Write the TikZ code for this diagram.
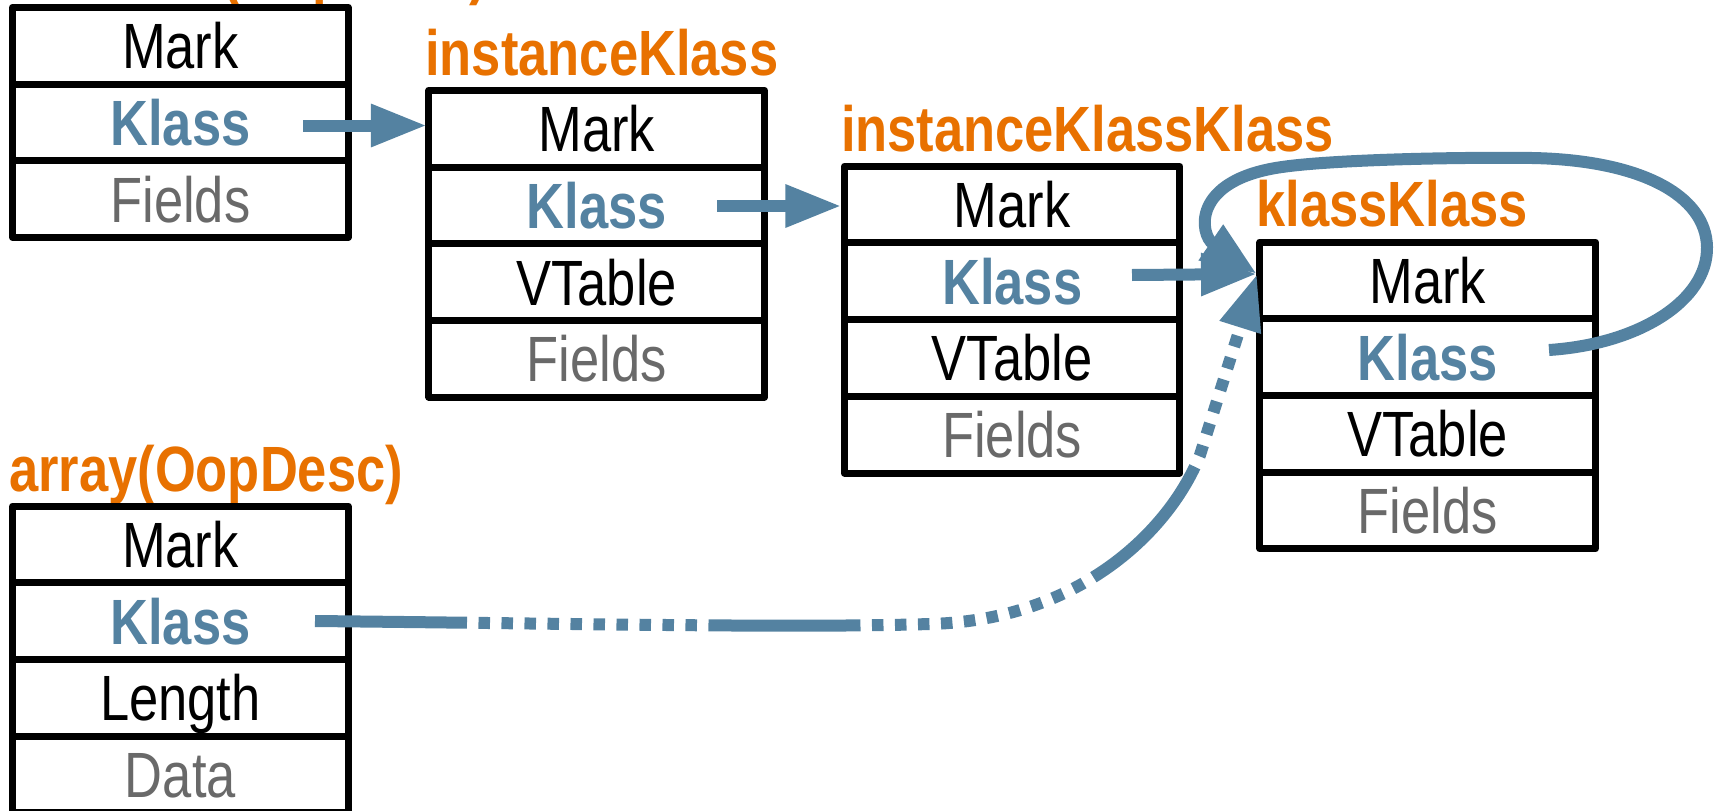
\documentclass[tikz,border=0pt]{standalone}
\usepackage{fontspec}
\setmainfont[FakeStretch=0.82]{Liberation Sans}
\usetikzlibrary{arrows.meta}
\definecolor{kblue}{RGB}{84,130,161}
\definecolor{korange}{RGB}{232,113,0}
\definecolor{kgray}{RGB}{105,105,105}
\begin{document}
\begin{tikzpicture}[x=1pt,y=-1pt,
  cell/.style={draw=black, line width=7pt, line join=round, minimum width=335.5pt,
    minimum height=76.7pt, inner sep=0pt, outer sep=0pt,
    font=\fontsize{64}{70}\selectfont, text height=46pt, text depth=0pt},
  kcell/.style={cell, text=kblue, font=\fontsize{64}{70}\selectfont\bfseries},
  fcell/.style={cell, text=kgray},
  title/.style={anchor=base west, inner sep=0pt, outer sep=0pt, text=korange,
    font=\fontsize{64}{70}\selectfont\bfseries},
  link/.style={draw=kblue, line width=12pt, -{Triangle[length=56pt,width=40pt]}},
]
\useasboundingbox (0,0) rectangle (1719,811);
\clip (0,0) rectangle (1719,811);

% box 1
\node[title] (t1) at (9.2,-7.7) {instance(OopDesc)};
\node[cell]  (b1m) at (180.4,45.65) {Mark};
\node[kcell] (b1k) at (180.4,122.35) {Klass};
\node[fcell] (b1f) at (180.4,199.05) {Fields};

% box 2
\node[title] (t2) at (425.3,75.3) {instanceKlass};
\node[cell]  (b2m) at (596.7,128.65) {Mark};
\node[kcell] (b2k) at (596.7,205.35) {Klass};
\node[cell]  (b2v) at (596.7,282.05) {VTable};
\node[fcell] (b2f) at (596.7,358.75) {Fields};

% box 3
\node[title] (t3) at (841,151.2) {instanceKlassKlass};
\node[cell]  (b3m) at (1012.2,204.55) {Mark};
\node[kcell] (b3k) at (1012.2,281.25) {Klass};
\node[cell]  (b3v) at (1012.2,357.95) {VTable};
\node[fcell] (b3f) at (1012.2,434.65) {Fields};

% box 4
\node[title] (t4) at (1256.5,226) {klassKlass};
\node[cell]  (b4m) at (1427.7,280.35) {Mark};
\node[kcell] (b4k) at (1427.7,357.05) {Klass};
\node[cell]  (b4v) at (1427.7,433.75) {VTable};
\node[fcell] (b4f) at (1427.7,510.45) {Fields};

% box 5
\node[title] (t5) at (9.2,491) {array(OopDesc)};
\node[cell]  (b5m) at (180.4,544.35) {Mark};
\node[kcell] (b5k) at (180.4,621.05) {Klass};
\node[cell]  (b5l) at (180.4,697.75) {Length};
\node[fcell] (b5d) at (180.4,774.45) {Data};

% connector ends
\coordinate (s1) at (303,125.5);
\coordinate (s2) at (717,206);
\coordinate (s3) at (1132,275);
\coordinate (s4) at (1549,350);
\coordinate (s5) at (315,621);
\coordinate (hit) at (1257,274);

\draw[link, shorten >=2pt] (s1) -- (s1 -| b2m.west);
\draw[link, shorten >=3pt] (s2) -- (s2 -| b3m.west);
\draw[link] (s3) -- (hit);
\draw[link] (s4) .. controls (1640,344) and (1708,300) .. (1707,247)
  .. controls (1706,195) and (1640,160) .. (1532,158)
  .. controls (1450,157) and (1330,160) .. (1282,167)
  .. controls (1190,180) and (1200,235) .. (hit);
\draw[link, dash pattern=on 152pt off 11.5pt on 11.5pt off 11.5pt on 11.5pt off 11.5pt
    on 11.5pt off 11.5pt on 11.5pt off 11.5pt on 11.5pt off 11.5pt on 11.5pt off 11.5pt
    on 11.5pt off 11.5pt on 11.5pt off 11.5pt on 11.5pt off 11.5pt on 11.5pt off 11.5pt]
  (s5) .. controls (600,624) and (800,628) .. (930,624)
  .. controls (1080,620) and (1170,530) .. (1200,455) -- (hit);
\end{tikzpicture}
\end{document}
